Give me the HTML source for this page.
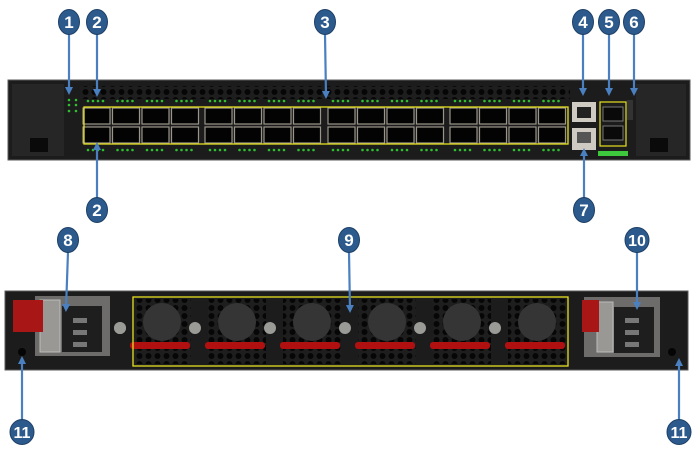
<!DOCTYPE html>
<html><head><meta charset="utf-8"><style>
html,body{margin:0;padding:0;background:#fff;width:700px;height:454px;overflow:hidden}
svg{display:block}
text{font-family:"Liberation Sans",sans-serif;font-weight:bold;fill:#fff;font-size:17px;text-anchor:middle}
</style></head><body>
<svg id="s" width="700" height="454" viewBox="0 0 700 454" xmlns="http://www.w3.org/2000/svg">
<defs>
<marker id="ah" markerWidth="8" markerHeight="8" refX="5" refY="4" orient="auto" markerUnits="userSpaceOnUse">
<path d="M0,0 L8,4 L0,8 z" fill="#4a7fc0"/></marker>
<pattern id="hex" width="9" height="8" patternUnits="userSpaceOnUse">
<rect width="9" height="8" fill="#1e1e1e"/><circle cx="4.5" cy="4" r="3" fill="#060606"/></pattern>
</defs>
<rect x="8" y="80" width="682" height="80" fill="#1c1c1c" stroke="#5a5a5a" stroke-width="1"/>
<rect x="12" y="84" width="52" height="72" fill="#262626"/>
<rect x="636" y="84" width="50" height="72" fill="#262626"/>
<rect x="30" y="138" width="18" height="14" fill="#0a0a0a"/>
<rect x="650" y="138" width="18" height="14" fill="#0a0a0a"/>
<rect x="80" y="86" width="490" height="13" fill="url(#hex)"/>
<g id="front"></g>
<rect x="84" y="107" width="484" height="37" fill="none" stroke="#e6e020" stroke-width="1.3"/>
<rect x="572" y="102" width="24" height="20" fill="#cfcac2"/><rect x="577" y="107" width="14" height="11" fill="#222"/>
<rect x="572" y="128" width="24" height="22" fill="#cfcac2"/><rect x="577" y="132" width="14" height="11" fill="#555"/>
<rect x="600" y="102" width="26" height="44" fill="none" stroke="#e6e020" stroke-width="1.2"/>
<rect x="603" y="107" width="20" height="14" fill="#0a0a0a" stroke="#777"/>
<rect x="603" y="126" width="20" height="14" fill="#0a0a0a" stroke="#777"/>
<rect x="598" y="151" width="30" height="5" fill="#3ec83e"/>
<rect x="627" y="100" width="6" height="20" fill="#333"/>
<rect x="5" y="291" width="683" height="79" fill="#1c1c1c" stroke="#5a5a5a"/>
<rect x="35" y="296" width="75" height="60" fill="#6e6c6a"/>
<rect x="40" y="300" width="20" height="52" fill="#9a9894" stroke="#bbb"/>
<rect x="62" y="306" width="40" height="46" fill="#1e1e1e"/>
<rect x="73" y="318" width="14" height="5" fill="#777"/><rect x="73" y="330" width="14" height="5" fill="#777"/><rect x="73" y="342" width="14" height="5" fill="#777"/>
<rect x="13" y="300" width="30" height="32" fill="#a81616"/>
<rect x="584" y="297" width="76" height="60" fill="#6e6c6a"/>
<rect x="597" y="302" width="16" height="50" fill="#9a9894" stroke="#bbb"/>
<rect x="614" y="307" width="40" height="46" fill="#1e1e1e"/>
<rect x="625" y="318" width="14" height="5" fill="#777"/><rect x="625" y="330" width="14" height="5" fill="#777"/><rect x="625" y="342" width="14" height="5" fill="#777"/>
<rect x="582" y="300" width="17" height="32" fill="#a81616"/>
<circle cx="22" cy="352" r="4" fill="#050505"/><circle cx="672" cy="352" r="4" fill="#050505"/>
<g id="rear"></g>
<rect x="133" y="297" width="435" height="69" fill="none" stroke="#e6e020" stroke-width="1.3"/>
<g id="call"></g>
</svg>
<script>
const NS="http://www.w3.org/2000/svg";
function el(p,t,a,txt){const e=document.createElementNS(NS,t);for(const k in a)e.setAttribute(k,a[k]);if(txt)e.textContent=txt;document.getElementById(p).appendChild(e);return e;}
const groups=[83,205,328,450];
groups.forEach(g=>{for(let i=0;i<4;i++){const x=g+i*29.5;
 el('front','rect',{x:x,y:108,width:27,height:16,fill:'#030303',stroke:'#9a948a','stroke-width':1.2});
 el('front','rect',{x:x,y:127,width:27,height:16,fill:'#030303',stroke:'#9a948a','stroke-width':1.2});
 for(let d=0;d<4;d++){el('front','circle',{cx:x+5+d*5,cy:101,r:1.3,fill:'#2ec02e'});el('front','circle',{cx:x+5+d*5,cy:150,r:1.3,fill:'#2ec02e'});}
}});
[[69,95],[69,100],[69,106],[76,95],[76,100],[76,106]].forEach(p=>el('front','circle',{cx:p[0],cy:p[1]+5,r:1.3,fill:'#2ec02e'}));
for(let i=0;i<6;i++){const x=133+i*75;
 el('rear','rect',{x:x,y:299,width:58,height:65,fill:'url(#hex)'});
 el('rear','circle',{cx:x+29,cy:322,r:19,fill:'#353535'});
 el('rear','rect',{x:x-3,y:342,width:60,height:7,rx:3,fill:'#b01010'});
 el('rear','circle',{cx:x-13,cy:328,r:6,fill:'#9a9a96'});
}
el('rear','circle',{cx:120,cy:328,r:6,fill:'#9a9a96'});
const C=[[1,69,22,69,95],[2,97,22,97,97],[3,325,22,326,99],[4,583,22,583,96],[5,609,22,609,96],[6,634,22,634,96],
[2,97,210,97,142],[7,584,210,584,148],[8,68,240,66,312],[9,349,240,350,313],[10,637,240,637,310],[11,22,432,22,356],[11,679,432,679,358]];
C.forEach(c=>{const [n,x,y,tx,ty]=c;const dy=ty>y?12:-12;
 el('call','line',{x1:x,y1:y+dy,x2:tx,y2:ty-(ty>y?3:-3),stroke:'#4a7fc0','stroke-width':2.2,'marker-end':'url(#ah)'});
 el('call','ellipse',{cx:x,cy:y,rx:n>9?12:10.5,ry:12.5,fill:'#2c5a8c',stroke:'#1d3f66','stroke-width':1});
 el('call','text',{x:x,y:y+6,style:n>9?'font-size:16px':''},String(n));
});
</script>
</body></html>
